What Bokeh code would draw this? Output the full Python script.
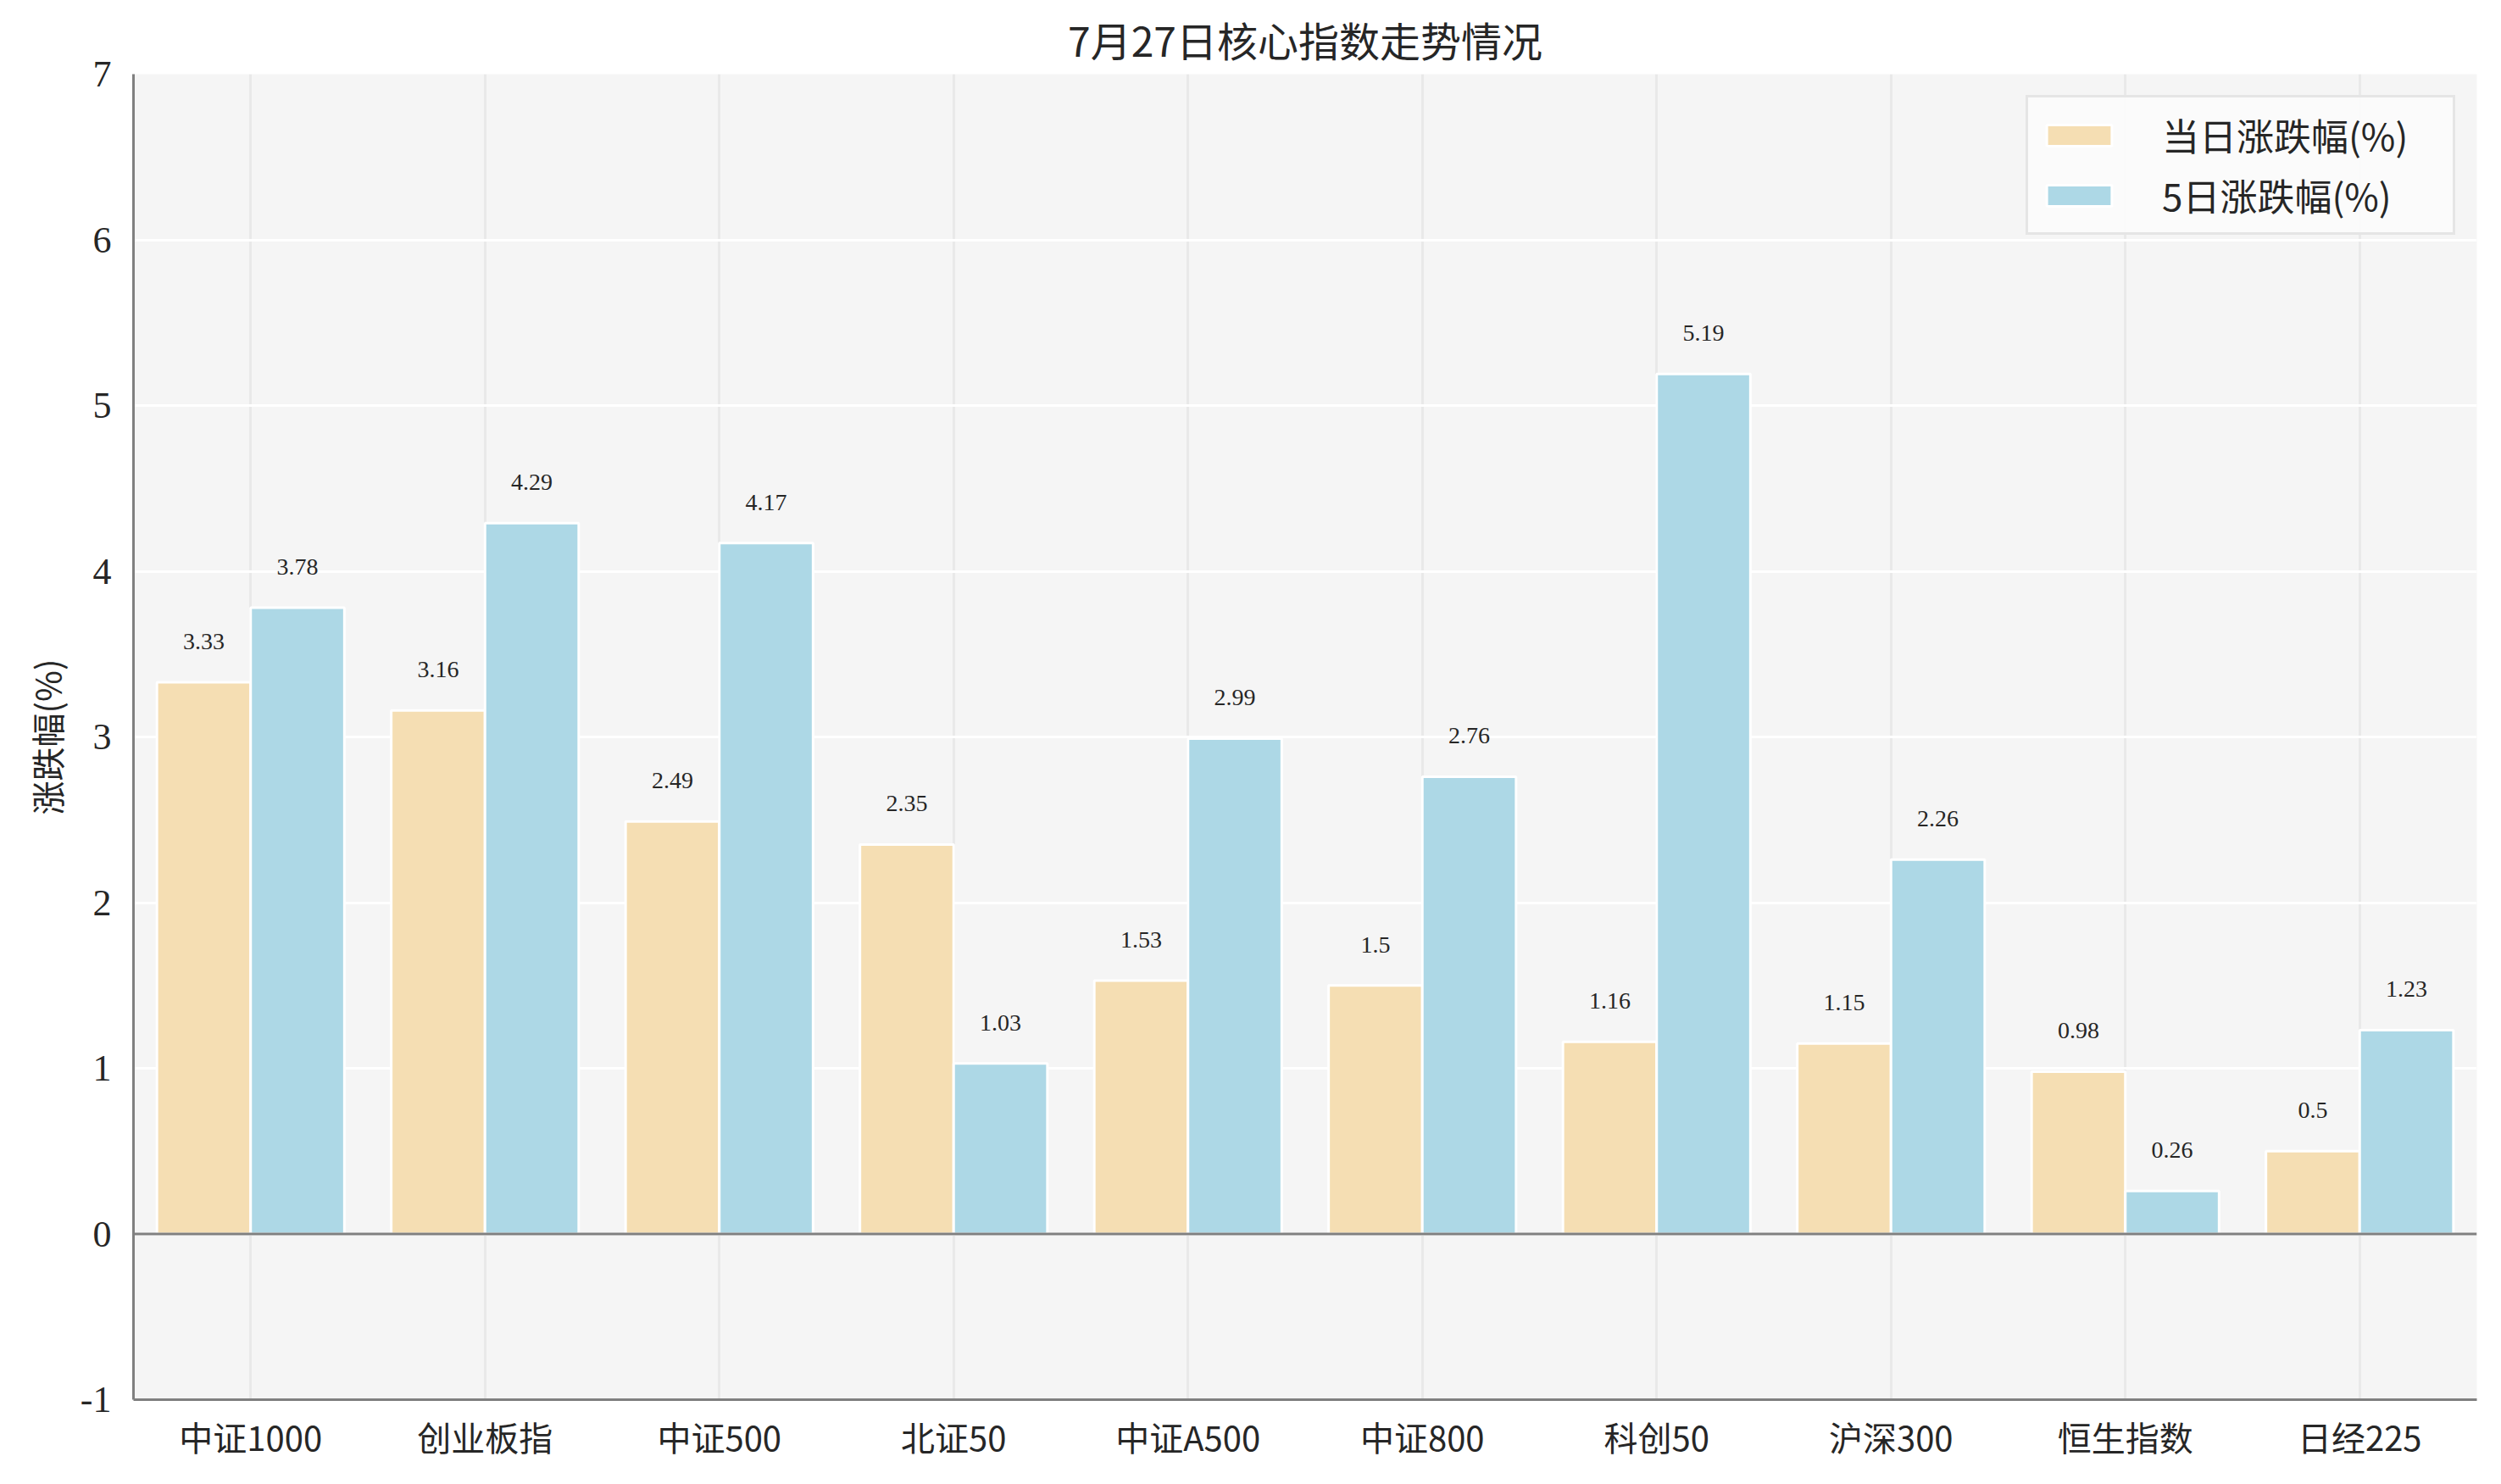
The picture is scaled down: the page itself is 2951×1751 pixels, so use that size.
from bokeh.plotting import figure
from bokeh.models import Range1d, FixedTicker, Span, ColumnDataSource, Legend, LegendItem
from bokeh.transform import dodge
from bokeh.core.properties import value
from bokeh.embed import file_html
from bokeh.resources import INLINE

categories = ["中证1000", "创业板指", "中证500", "北证50", "中证A500",
              "中证800", "科创50", "沪深300", "恒生指数", "日经225"]
day_change = [3.33, 3.16, 2.49, 2.35, 1.53, 1.5, 1.16, 1.15, 0.98, 0.5]
week_change = [3.78, 4.29, 4.17, 1.03, 2.99, 2.76, 5.19, 2.26, 0.26, 1.23]
y_ticks = [-1, 0, 1, 2, 3, 4, 5, 6, 7]

CJK = "Noto Sans CJK SC"
NUM = "Liberation Serif"
TXT = "#262626"

src = ColumnDataSource(dict(
    cat=categories,
    day=day_change,
    week=week_change,
    day_lbl=[f"{v:g}" for v in day_change],
    week_lbl=[f"{v:g}" for v in week_change],
    day_y=[v + 0.2 for v in day_change],
    week_y=[v + 0.2 for v in week_change],
))

p = figure(x_range=categories, y_range=Range1d(-1, 7),
           width=2935, height=1735, output_backend="svg", toolbar_location=None,
           min_border_left=157, min_border_right=13, min_border_top=87, min_border_bottom=84,
           title="7月27日核心指数走势情况")

p.background_fill_color = "#f5f5f5"
p.border_fill_color = "white"
p.outline_line_color = None

# title
p.title.align = "center"
p.title.text_font = CJK
p.title.text_font_size = "48px"
p.title.text_font_style = "normal"
p.title.text_color = TXT
p.title.standoff = 14

# bars
r_day = p.vbar(x=dodge("cat", -0.2, range=p.x_range), top="day", bottom=0, width=0.4,
               source=src, fill_color="#F5DEB3", line_color="white", line_width=3)
r_week = p.vbar(x=dodge("cat", 0.2, range=p.x_range), top="week", bottom=0, width=0.4,
                source=src, fill_color="#ADD8E6", line_color="white", line_width=3)

# value labels above bars
p.text(x=dodge("cat", -0.2, range=p.x_range), y="day_y", text="day_lbl", source=src,
       text_align="center", text_baseline="bottom", text_font=value(NUM),
       text_font_size="28px", text_color=TXT)
p.text(x=dodge("cat", 0.2, range=p.x_range), y="week_y", text="week_lbl", source=src,
       text_align="center", text_baseline="bottom", text_font=value(NUM),
       text_font_size="28px", text_color=TXT)

# zero line
p.add_layout(Span(location=0, dimension="width", line_color="#808080", line_width=3))

# grids
p.ygrid.grid_line_color = "white"
p.ygrid.grid_line_width = 3
p.xgrid.grid_line_color = "#e9e9e9"
p.xgrid.grid_line_width = 3
p.yaxis.ticker = FixedTicker(ticks=y_ticks)

# axes
for ax in (p.xaxis, p.yaxis):
    ax.axis_line_color = "#808080"
    ax.axis_line_width = 3
    ax.major_tick_line_color = None
    ax.minor_tick_line_color = None
    ax.major_label_text_color = TXT

p.yaxis.major_label_text_font = NUM
p.yaxis.major_label_text_font_size = "44px"
p.yaxis.major_label_standoff = 20
p.yaxis.major_label_overrides = {-1: "-1"}
p.yaxis.axis_label = "涨跌幅(%)"
p.yaxis.axis_label_text_font = CJK
p.yaxis.axis_label_text_font_size = "40px"
p.yaxis.axis_label_text_font_style = "normal"
p.yaxis.axis_label_text_color = TXT
p.yaxis.axis_label_standoff = 8

p.xaxis.major_label_text_font = CJK
p.xaxis.major_label_text_font_size = "40px"
p.xaxis.major_label_standoff = 8

# legend
legend = Legend(items=[LegendItem(label="当日涨跌幅(%)", renderers=[r_day]),
                       LegendItem(label="5日涨跌幅(%)", renderers=[r_week])],
                location="top_right", margin=25, padding=12, spacing=7,
                glyph_width=96, glyph_height=31, label_height=40, label_width=331,
                label_standoff=50,
                label_text_font=CJK, label_text_font_size="44px", label_text_color=TXT,
                border_line_color="#d0d0d0", border_line_width=3,
                background_fill_color="#fcfcfc", background_fill_alpha=0.9)
p.add_layout(legend)

open("out.html", "w").write(file_html(p, INLINE))
